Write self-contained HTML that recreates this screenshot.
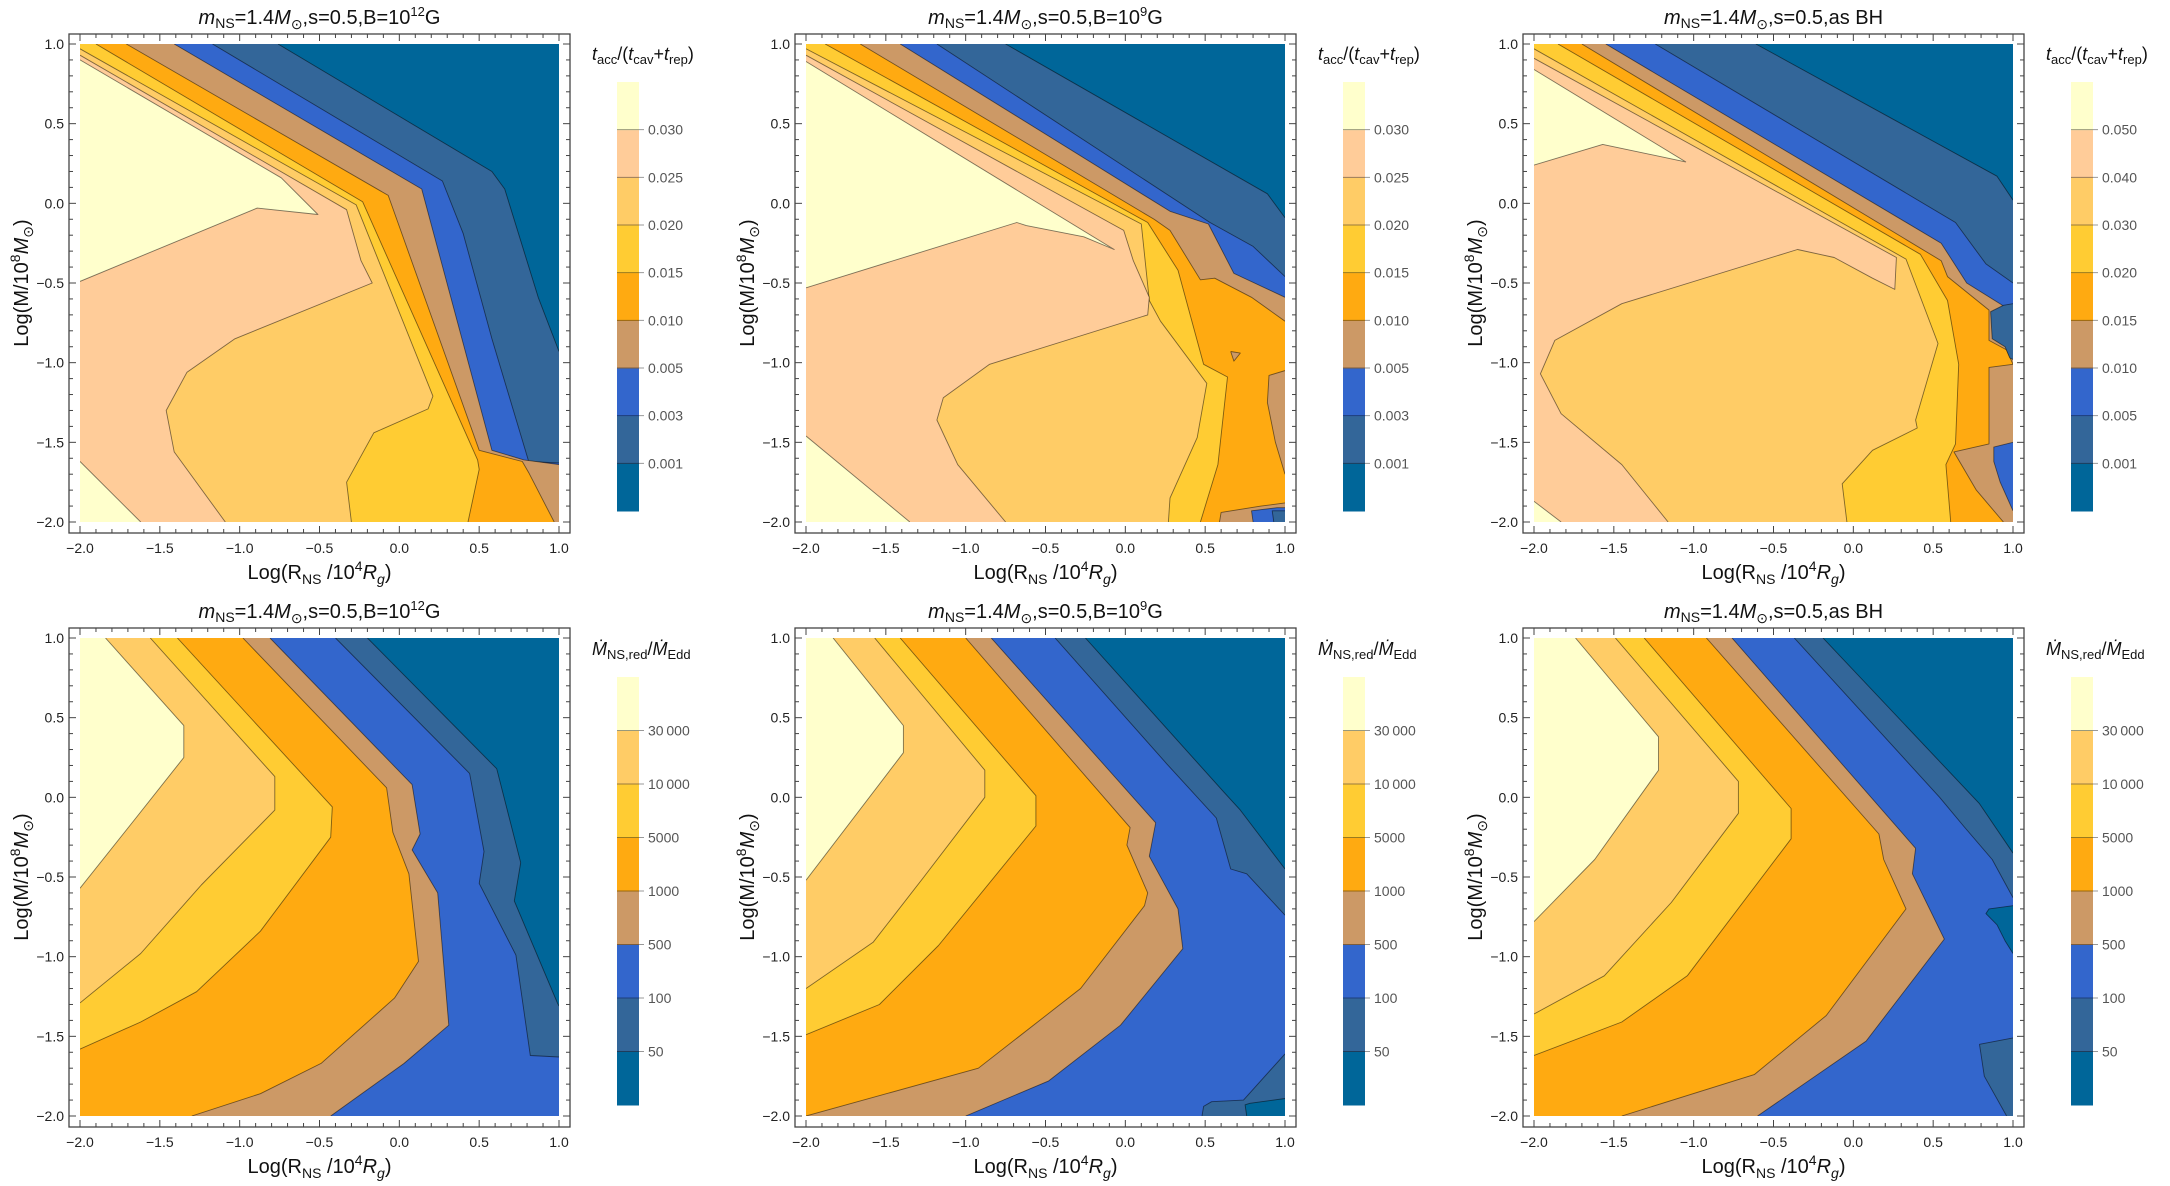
<!DOCTYPE html>
<html><head><meta charset="utf-8"><title>Contour panels</title>
<style>html,body{margin:0;padding:0;background:#fff;}svg{display:block;font-family:"Liberation Sans",Arial,sans-serif;}</style>
</head><body>
<svg id="fig" width="2170" height="1186" viewBox="0 0 2170 1186" xmlns="http://www.w3.org/2000/svg"><defs id="defs"></defs><rect width="2170" height="1186" fill="#fff"/></svg>
<script>
const NS='http://www.w3.org/2000/svg';
const colorsTop=['#006699','#336699','#3366cc','#cc9966','#ffaa11','#ffcc33','#ffcc66','#ffcc99','#ffffcc'];
const colorsBottom=['#006699','#336699','#3366cc','#cc9966','#ffaa11','#ffcc33','#ffcc66','#ffffcc'];
const axisTicks=[-2,-1.5,-1,-0.5,0,0.5,1];
const levelsA=['0.001','0.003','0.005','0.010','0.015','0.020','0.025','0.030'];
const levelsB=['0.001','0.003','0.005','0.010','0.015','0.020','0.025','0.030'];
const levelsC=['0.001','0.005','0.010','0.015','0.020','0.030','0.040','0.050'];
const levelsBottom=['50','100','500','1000','5000','10\u2009000','30\u2009000'];
const regionsA=[
[1,[-2,1,-0.76,1,0.58,0.20,0.66,0.09,0.87,-0.59,1,-0.93,1,-2,-2,-2]],
[2,[-2,1,-1.17,1,0.27,0.14,0.40,-0.19,0.58,-0.85,0.81,-1.62,1,-1.63,1,-2,-2,-2]],
[3,[-2,1,-1.41,1,0.14,0.09,0.58,-1.55,0.78,-1.61,1,-1.64,1,-2,-2,-2]],
[4,[-2,1,-1.71,1,-0.07,0.05,0.50,-1.55,0.77,-1.62,0.81,-1.69,0.97,-2,-2,-2]],
[5,[-2,1,-1.90,1,-0.23,0.01,0.49,-1.61,0.50,-1.67,0.43,-2,-2,-2]],
[6,[-2,0.97,-0.27,-0.01,0.21,-1.21,0.18,-1.29,-0.16,-1.44,-0.33,-1.75,-0.30,-2,-2,-2]],
[7,[-2,0.93,-0.33,-0.04,-0.24,-0.36,-0.17,-0.50,-1.03,-0.85,-1.33,-1.06,-1.46,-1.30,-1.41,-1.56,-1.09,-2,-2,-2]],
[8,[-2,0.90,-0.74,0.16,-0.51,-0.07,-0.89,-0.03,-2,-0.49]],
[8,[-2,-1.62,-1.62,-2,-2,-2]]
];
const regionsB=[
[1,[-2,1,-0.75,1,0.89,0.06,1,-0.09,1,-2,-2,-2]],
[2,[-2,1,-1.18,1,0.53,-0.12,0.80,-0.27,1,-0.46,1,-2,-2,-2]],
[3,[-2,1,-1.41,1,0.28,-0.05,0.52,-0.13,0.68,-0.44,1,-0.59,1,-2,-2,-2]],
[4,[-2,1,-1.66,1,0.18,-0.10,0.28,-0.17,0.47,-0.48,0.56,-0.47,0.79,-0.59,1,-0.74,1,-2,-2,-2]],
[3,[1,-1.05,0.90,-1.08,0.89,-1.25,0.94,-1.50,1,-1.70]],
[3,[0.66,-0.93,0.72,-0.94,0.68,-0.99]],
[3,[0.59,-2,0.60,-1.94,0.85,-1.90,1,-1.88,1,-2]],
[2,[0.80,-2,0.79,-1.93,0.95,-1.91,1,-1.91,1,-2]],
[1,[0.93,-2,0.92,-1.93,1,-1.93,1,-2]],
[5,[-2,1,-1.88,1,0.14,-0.12,0.33,-0.42,0.49,-1.01,0.64,-1.09,0.58,-1.64,0.47,-2,-2,-2]],
[6,[-2,0.97,0.10,-0.13,0.15,-0.61,0.22,-0.74,0.51,-1.13,0.45,-1.47,0.28,-1.85,0.27,-2,-2,-2]],
[7,[-2,0.93,-0.01,-0.17,0.05,-0.36,0.15,-0.59,0.14,-0.70,-0.85,-1.01,-1.14,-1.22,-1.18,-1.36,-1.05,-1.64,-0.75,-2,-2,-2]],
[8,[-2,0.89,-0.07,-0.29,-0.26,-0.21,-0.62,-0.14,-0.68,-0.12,-2,-0.53]],
[8,[-2,-1.46,-1.35,-2,-2,-2]]
];
const regionsC=[
[1,[-2,1,-0.61,1,0.90,0.17,1,0.02,1,-2,-2,-2]],
[2,[-2,1,-1.24,1,0.64,-0.12,0.83,-0.38,1,-0.50,1,-2,-2,-2]],
[3,[-2,1,-1.55,1,0.55,-0.25,0.71,-0.50,0.95,-0.65,1,-0.66,1,-2,-2,-2]],
[4,[-2,1,-1.70,1,0.45,-0.30,0.55,-0.36,0.59,-0.46,0.85,-0.67,0.85,-0.86,0.96,-0.92,1,-1.01,0.85,-1.03,0.85,-1.51,0.63,-1.56,0.77,-1.80,0.94,-2,-2,-2]],
[1,[1,-0.63,0.94,-0.64,0.86,-0.68,0.87,-0.85,0.95,-0.90,0.98,-0.97,1,-0.98]],
[2,[1,-1.50,0.88,-1.53,0.88,-1.62,0.92,-1.75,1,-1.93]],
[5,[-2,1,-1.85,1,0.42,-0.32,0.59,-0.61,0.66,-1.01,0.64,-1.51,0.58,-1.64,0.61,-2,-2,-2]],
[6,[-2,0.97,0.33,-0.35,0.53,-0.88,0.39,-1.36,0.40,-1.41,0.12,-1.55,-0.07,-1.76,-0.04,-2,-2,-2]],
[7,[-2,0.91,0.27,-0.34,0.26,-0.54,0.12,-0.47,-0.12,-0.34,-0.35,-0.29,-1.45,-0.63,-1.87,-0.86,-1.96,-1.07,-1.83,-1.32,-1.45,-1.64,-1.16,-2,-2,-2]],
[8,[-2,0.84,-1.05,0.26,-1.57,0.37,-2,0.24]],
[8,[-2,-1.87,-1.83,-2,-2,-2]]
];
const regionsD=[
[1,[-2,1,-0.20,1,0.61,0.18,0.76,-0.41,0.72,-0.65,0.99,-1.29,1,-1.31,1,-2,-2,-2]],
[2,[-2,1,-0.40,1,0.44,0.15,0.53,-0.34,0.50,-0.54,0.73,-0.99,0.82,-1.62,1,-1.63,1,-2,-2,-2]],
[3,[-2,1,-0.81,1,0.08,0.08,0.13,-0.23,0.08,-0.33,0.24,-0.60,0.31,-1.43,0.03,-1.67,-0.43,-2,-2,-2]],
[4,[-2,1,-0.98,1,-0.08,0.06,-0.04,-0.22,0.06,-0.48,0.12,-1.03,-0.03,-1.26,-0.49,-1.67,-0.87,-1.86,-1.30,-2,-2,-2]],
[5,[-2,1,-1.39,1,-0.42,-0.06,-0.43,-0.25,-0.87,-0.84,-1.27,-1.22,-1.62,-1.41,-2,-1.58]],
[6,[-2,1,-1.56,1,-0.78,0.13,-0.78,-0.08,-1.24,-0.55,-1.62,-0.98,-2,-1.29]],
[7,[-2,1,-1.84,1,-1.35,0.45,-1.35,0.25,-1.65,-0.13,-2,-0.57]]
];
const regionsE=[
[1,[-2,1,-0.25,1,0.62,0.03,0.72,-0.08,1,-0.45,1,-2,-2,-2]],
[2,[-2,1,-0.44,1,0.26,0.21,0.57,-0.13,0.66,-0.45,0.76,-0.48,1,-0.74,1,-2,-2,-2]],
[1,[1,-1.61,0.74,-1.90,0.54,-1.91,0.49,-1.94,0.48,-2,1,-2]],
[0,[1,-1.89,0.78,-1.92,0.75,-1.93,0.76,-2,1,-2]],
[3,[-2,1,-0.84,1,0.19,-0.16,0.15,-0.37,0.33,-0.70,0.36,-0.95,-0.03,-1.43,-0.48,-1.78,-1.00,-2,-2,-2]],
[4,[-2,1,-1.00,1,0.03,-0.19,0.01,-0.30,0.14,-0.60,0.12,-0.68,-0.28,-1.20,-0.92,-1.70,-2,-2]],
[5,[-2,1,-1.41,1,-0.56,0.01,-0.56,-0.18,-1.17,-0.93,-1.54,-1.30,-2,-1.49]],
[6,[-2,1,-1.57,1,-0.88,0.17,-0.88,0.00,-1.27,-0.51,-1.58,-0.91,-2,-1.20]],
[7,[-2,1,-1.83,1,-1.39,0.45,-1.39,0.28,-2,-0.52]]
];
const regionsF=[
[1,[-2,1,-0.19,1,0.79,-0.04,1,-0.35,1,-2,-2,-2]],
[2,[-2,1,-0.37,1,0.54,0.00,0.69,-0.18,0.87,-0.39,1,-0.63,1,-2,-2,-2]],
[0,[1,-0.68,0.85,-0.70,0.83,-0.73,0.90,-0.80,0.95,-0.90,1,-0.98]],
[1,[1,-1.51,0.79,-1.55,0.82,-1.75,0.96,-2,1,-2]],
[3,[-2,1,-0.76,1,0.39,-0.32,0.37,-0.48,0.57,-0.89,0.08,-1.53,-0.60,-2,-2,-2]],
[4,[-2,1,-0.92,1,0.16,-0.23,0.19,-0.39,0.33,-0.70,-0.17,-1.37,-0.62,-1.74,-1.45,-2,-2,-2]],
[5,[-2,1,-1.31,1,-0.39,-0.07,-0.39,-0.26,-1.04,-1.12,-1.45,-1.41,-2,-1.62]],
[6,[-2,1,-1.49,1,-0.72,0.10,-0.72,-0.10,-1.14,-0.66,-1.56,-1.12,-2,-1.36]],
[7,[-2,1,-1.74,1,-1.22,0.38,-1.22,0.17,-1.62,-0.39,-2,-0.78]]
];

const svg=document.getElementById('fig');
const defs=document.getElementById('defs');
const W=479,H=478;
function mk(tag,attrs,parent){const e=document.createElementNS(NS,tag);for(const k in attrs)e.setAttribute(k,attrs[k]);parent.appendChild(e);return e;}

const SUN='\u2299';
const titleTop=(tail)=>`<tspan font-style="italic">m</tspan><tspan font-size="14" dy="4">NS</tspan><tspan dy="-4">=1.4</tspan><tspan font-style="italic">M</tspan><tspan font-size="14" dy="5">${SUN}</tspan><tspan dy="-5">,s=0.5,${tail}</tspan>`;
const tailB12='B=10</tspan><tspan font-size="13" dy="-8">12</tspan><tspan dy="8">G';
const tailB9='B=10</tspan><tspan font-size="13" dy="-8">9</tspan><tspan dy="8">G';
const tailBH='as BH';
const xLabel=`Log(R<tspan font-size="14" dy="5">NS</tspan><tspan dy="-5"> /10</tspan><tspan font-size="14" dy="-8">4</tspan><tspan dy="8" font-style="italic">R</tspan><tspan font-size="14" dy="5" font-style="italic">g</tspan><tspan dy="-5">)</tspan>`;
const yLabel=`Log(M/10<tspan font-size="14" dy="-8">8</tspan><tspan dy="8" font-style="italic">M</tspan><tspan font-size="14" dy="5">${SUN}</tspan><tspan dy="-5">)</tspan>`;
const cbTop=`<tspan font-style="italic">t</tspan><tspan font-size="13" dy="4">acc</tspan><tspan dy="-4">/(</tspan><tspan font-style="italic">t</tspan><tspan font-size="13" dy="4">cav</tspan><tspan dy="-4">+</tspan><tspan font-style="italic">t</tspan><tspan font-size="13" dy="4">rep</tspan><tspan dy="-4">)</tspan>`;
const cbBottom=`<tspan font-style="italic">\u1E40</tspan><tspan font-size="13" dy="4">NS,red</tspan><tspan dy="-4">/</tspan><tspan font-style="italic">\u1E40</tspan><tspan font-size="13" dy="4">Edd</tspan>`;

const panels=[
 {name:'panel-top-left',x0:80,y0:44,regions:regionsA,colors:colorsTop,levels:levelsA,title:titleTop(tailB12),cb:cbTop,cbY:[82,511]},
 {name:'panel-top-middle',x0:806,y0:44,regions:regionsB,colors:colorsTop,levels:levelsB,title:titleTop(tailB9),cb:cbTop,cbY:[82,511]},
 {name:'panel-top-right',x0:1534,y0:44,regions:regionsC,colors:colorsTop,levels:levelsC,title:titleTop(tailBH),cb:cbTop,cbY:[82,511]},
 {name:'panel-bottom-left',x0:80,y0:638,regions:regionsD,colors:colorsBottom,levels:levelsBottom,title:titleTop(tailB12),cb:cbBottom,cbY:[677,1105]},
 {name:'panel-bottom-middle',x0:806,y0:638,regions:regionsE,colors:colorsBottom,levels:levelsBottom,title:titleTop(tailB9),cb:cbBottom,cbY:[677,1105]},
 {name:'panel-bottom-right',x0:1534,y0:638,regions:regionsF,colors:colorsBottom,levels:levelsBottom,title:titleTop(tailBH),cb:cbBottom,cbY:[677,1105]}
];
function fmt(v){const s=Math.abs(v).toFixed(1);return v<0?'\u2212'+s:s;}
function onEdge(a,b){return (a[0]===b[0]&&(a[0]===-2||a[0]===1))||(a[1]===b[1]&&(a[1]===-2||a[1]===1));}

panels.forEach((p,pi)=>{
 const sx=v=>p.x0+(v+2)/3*W, sy=v=>p.y0+(1-v)/3*H;
 const g=mk('g',{},svg);
 
 
 const cp=mk('clipPath',{id:'clip'+pi},defs);
 mk('rect',{x:sx(-2),y:sy(1),width:W,height:H},cp);
 const plot=mk('g',{'clip-path':'url(#clip'+pi+')'},g);
 
 
 const base=mk('rect',{x:sx(-2),y:sy(1),width:W,height:H,fill:p.colors[0]},plot);
 
 
 p.regions.forEach(r=>{
  const idx=r[0],a=r[1];const pts=[];
  for(let i=0;i<a.length;i+=2)pts.push([a[i],a[i+1]]);
  const poly=mk('polygon',{points:pts.map(q=>sx(q[0]).toFixed(1)+','+sy(q[1]).toFixed(1)).join(' '),fill:p.colors[idx],stroke:'none'},plot);
  
  
  let d='';let pen=false;
  for(let i=0;i<pts.length;i++){const A=pts[i],B=pts[(i+1)%pts.length];
   if(onEdge(A,B)){pen=false;continue;}
   if(!pen){d+='M'+sx(A[0]).toFixed(1)+' '+sy(A[1]).toFixed(1);pen=true;}
   d+='L'+sx(B[0]).toFixed(1)+' '+sy(B[1]).toFixed(1);}
  if(d){const ln=mk('path',{d:d,fill:'none',stroke:'rgba(0,0,0,0.5)','stroke-width':'0.9','stroke-linejoin':'round'},plot);
   
   }
 });
 // frame
 const fx0=sx(-2)-11,fx1=sx(1)+11,fy0=sy(1)-10,fy1=sy(-2)+11;
 const fr=mk('rect',{x:fx0,y:fy0,width:fx1-fx0,height:fy1-fy0,fill:'none',stroke:'#444','stroke-width':'1.3'},g);
 
 
 const tg=mk('g',{stroke:'#444','stroke-width':'1'},g);
 
 
 for(let k=0;k<=30;k++){const v=-2+k*0.1;const major=(k%5===0);const L=major?7:4;
  const X=sx(v),Y=sy(v);
  mk('line',{x1:X,y1:fy1,x2:X,y2:fy1-L},tg);mk('line',{x1:X,y1:fy0,x2:X,y2:fy0+L},tg);
  mk('line',{x1:fx0,y1:Y,x2:fx0+L,y2:Y},tg);mk('line',{x1:fx1,y1:Y,x2:fx1-L,y2:Y},tg);}
 axisTicks.forEach(v=>{
  const tx=mk('text',{x:sx(v),y:fy1+20,'text-anchor':'middle','font-size':'14',fill:'#222'},g);
  tx.textContent=fmt(v);
  
  
  const ty=mk('text',{x:fx0-5,y:sy(v)+5,'text-anchor':'end','font-size':'14',fill:'#222'},g);
  ty.textContent=fmt(v);
  
  
 });
 const t=mk('text',{x:p.x0+W/2,y:p.y0-20,'text-anchor':'middle','font-size':'20',fill:'#111'},g);
 t.innerHTML=p.title;
 
 
 const xl=mk('text',{x:p.x0+W/2,y:p.y0+H+57,'text-anchor':'middle','font-size':'20',fill:'#111'},g);
 xl.innerHTML=xLabel;
 
 
 const yx=p.x0-52,yy=p.y0+H/2;
 const yl=mk('text',{x:yx,y:yy,'text-anchor':'middle','font-size':'20',fill:'#111',transform:`rotate(-90 ${yx} ${yy})`},g);
 yl.innerHTML=yLabel;
 
 
 // colorbar
 const cbx=p.x0+537,cbw=22,top=p.cbY[0],bot=p.cbY[1],n=p.colors.length,bh=(bot-top)/n;
 const cg=mk('g',{},g);
 
 
 p.colors.forEach((c,i)=>{const r=mk('rect',{x:cbx,y:bot-(i+1)*bh,width:cbw,height:bh+0.5,fill:c},cg);
  
  });
 p.levels.forEach((lv,i)=>{const Y=bot-(i+1)*bh;
  mk('line',{x1:cbx,y1:Y,x2:cbx+cbw+5,y2:Y,stroke:'rgba(0,0,0,0.4)','stroke-width':'1'},cg);
  const lt=mk('text',{x:cbx+cbw+9,y:Y+5,'font-size':'14',fill:'#555'},cg);
  lt.textContent=lv;
  
  });
 const ct=mk('text',{x:p.x0+512,y:top-22,'font-size':'18',fill:'#111'},cg);
 ct.innerHTML=p.cb;
 
 
});
</script>
</body></html>
